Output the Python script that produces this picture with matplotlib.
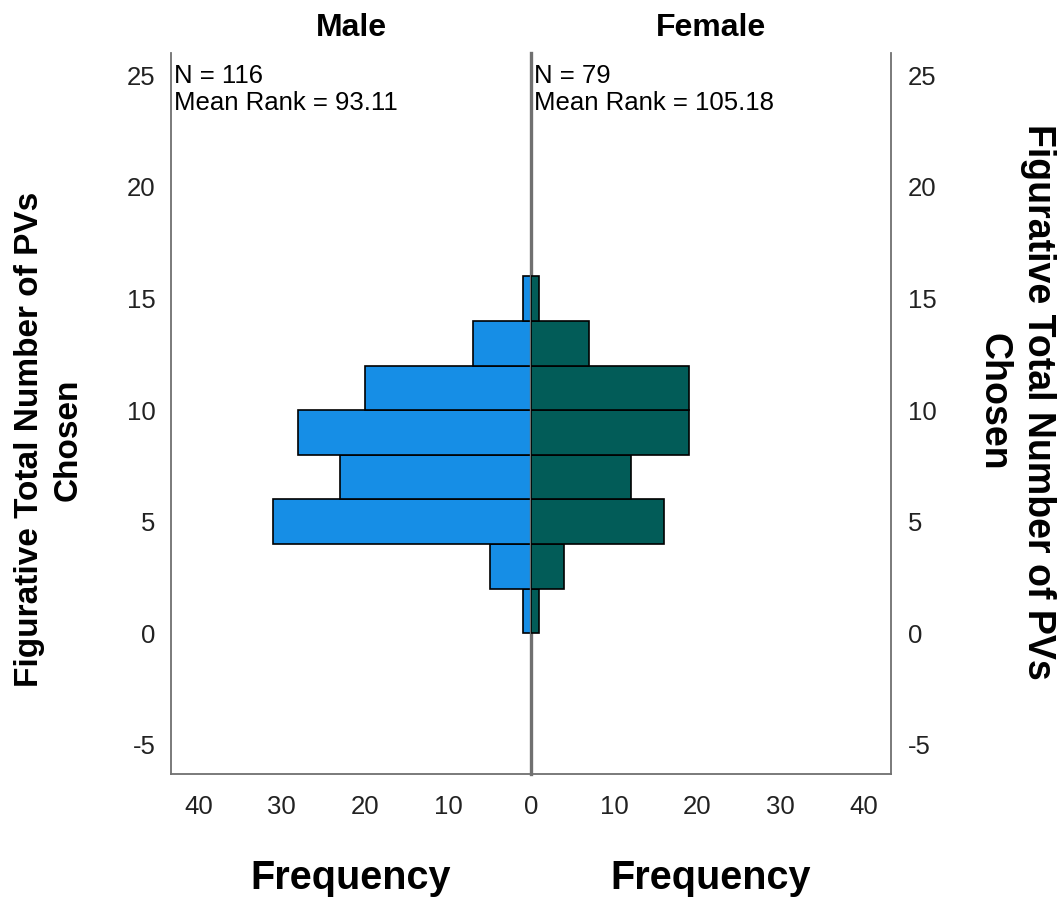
import numpy as np
import matplotlib.pyplot as plt

plt.rcParams['font.family'] = ['Liberation Sans', 'DejaVu Sans']
plt.rcParams['axes.unicode_minus'] = False

# histogram bins (lower edges, width 2) and counts
bin_edges = [0, 2, 4, 6, 8, 10, 12, 14]
male_counts = [1, 5, 31, 23, 28, 20, 7, 1]
female_counts = [1, 4, 16, 12, 19, 19, 7, 1]
groups = ["Male", "Female"]
n_vals = [116, 79]
mean_ranks = [93.11, 105.18]
y_ticks = [-5, 0, 5, 10, 15, 20, 25]
x_ticks_left = [0, 10, 20, 30, 40]
x_ticks_right = [10, 20, 30, 40]

male_col = "#168ee6"
female_col = "#025c58"
line_col = "#707070"

fig = plt.figure(figsize=(10.59, 9.05), dpi=100)
axL = fig.add_axes([0.1615, 0.1448, 0.34, 0.7966])
axR = fig.add_axes([0.5014, 0.1448, 0.34, 0.7966])

for ax, counts, col in [(axL, male_counts, male_col), (axR, female_counts, female_col)]:
    ax.barh(bin_edges, counts, height=2, align="edge", color=col,
            edgecolor="black", linewidth=1.2, zorder=2)
    ax.set_ylim(-6.3, 26.0)
    ax.set_xlim(0, 43.3)
    ax.set_yticks(y_ticks)
    ax.tick_params(length=0, labelsize=18.5, colors="#222222")
    ax.tick_params(axis="x", pad=15)
    ax.spines["top"].set_visible(False)
    for s in ax.spines.values():
        s.set_color(line_col)
        s.set_linewidth(1.3)

axL.set_xticks(x_ticks_left)
axR.set_xticks(x_ticks_right)
axL.invert_xaxis()
axL.spines["right"].set_visible(False)
axR.patch.set_visible(False)
axR.spines["left"].set_linewidth(2.4)
axR.spines["left"].set_zorder(1)
axR.yaxis.tick_right()
axR.tick_params(axis="y", pad=12)
axL.tick_params(axis="y", pad=11)

for ax, name, n, mr in zip([axL, axR], groups, n_vals, mean_ranks):
    ax.text(0.008, 0.985, f"N = {n}\nMean Rank = {mr:.2f}",
            transform=ax.transAxes, ha="left", va="top",
            fontsize=18.5, linespacing=1.15)
    ax.set_title(name, fontsize=23, fontweight="bold", pad=12)
    ax.set_xlabel("Frequency", fontsize=28.5, fontweight="bold", labelpad=29)

ylab = "Figurative Total Number of PVs\nChosen"
fig.text(0.046, 0.514, ylab, rotation=90, ha="center", va="center",
         fontsize=24, fontweight="bold", linespacing=1.35, multialignment="center")
fig.text(0.959, 0.556, ylab, rotation=-90, ha="center", va="center",
         fontsize=27, fontweight="bold", linespacing=1.32, multialignment="center")

fig.savefig("out.png", dpi=100)
